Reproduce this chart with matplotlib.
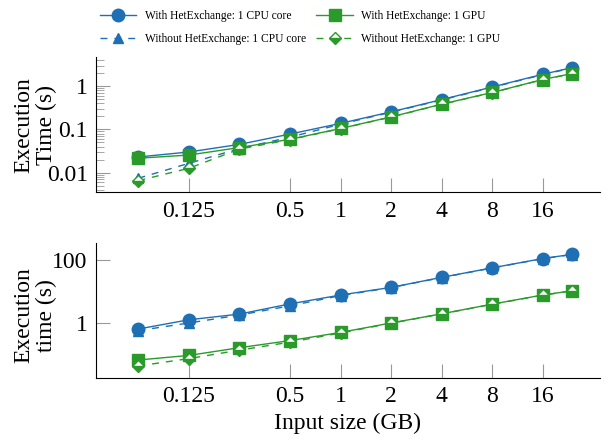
import numpy as np
import matplotlib.pyplot as plt
from matplotlib.ticker import FixedLocator, FixedFormatter, LogLocator, NullLocator, NullFormatter

plt.rcParams['font.family'] = ['Liberation Serif', 'DejaVu Serif']

# Input sizes (GB)
sizes = [0.0625, 0.125, 0.25, 0.5, 1, 2, 4, 8, 16, 24]
xtick_vals = [0.125, 0.5, 1, 2, 4, 8, 16]
xtick_labels = ['0.125', '0.5', '1', '2', '4', '8', '16']

# Top panel: execution time (s)
top_with_cpu = [0.023, 0.030, 0.045, 0.078, 0.138, 0.255, 0.49, 0.96, 1.89, 2.7]
top_with_gpu = [0.0215, 0.0255, 0.038, 0.059, 0.105, 0.195, 0.384, 0.716, 1.43, 1.97]
top_without_cpu = [0.0074, 0.0164, 0.036, 0.066, 0.132, 0.25, 0.48, 0.94, 1.85, 2.65]
top_without_gpu = [0.0065, 0.0126, 0.035, 0.058, 0.104, 0.193, 0.38, 0.71, 1.42, 1.95]

# Bottom panel: execution time (s)
bot_with_cpu = [0.63, 1.24, 1.88, 3.97, 7.6, 13.3, 27.7, 55.7, 110, 150]
bot_with_gpu = [0.065, 0.091, 0.16, 0.27, 0.49, 0.98, 1.92, 3.9, 7.6, 10.4]
bot_without_cpu = [0.56, 0.98, 1.75, 3.44, 7.3, 13.1, 27.3, 55.0, 109, 148]
bot_without_gpu = [0.042, 0.072, 0.134, 0.24, 0.47, 0.96, 1.9, 3.85, 7.5, 10.3]

blue = '#1f6fb4'
green = '#2a9a2a'

fig = plt.figure(figsize=(6.12, 4.40), dpi=100)
ax1 = fig.add_axes([0.157, 0.563, 0.823, 0.307])
ax2 = fig.add_axes([0.157, 0.142, 0.823, 0.306])


def draw(ax, wc, wg, oc, og):
    ax.plot(sizes, wc, '-', color=blue, lw=1, marker='o', ms=9,
            label='With HetExchange: 1 CPU core')
    ax.plot(sizes, oc, '--', color=blue, lw=1, marker='^', ms=7, dashes=(5, 5),
            label='Without HetExchange: 1 CPU core')
    ax.plot(sizes, wg, '-', color=green, lw=1, marker='s', ms=8,
            label='With HetExchange: 1 GPU')
    ax.plot(sizes, og, '--', color=green, lw=1, marker='D', ms=6, dashes=(5, 5),
            fillstyle='bottom', markerfacecoloralt='white', markeredgewidth=1,
            label='Without HetExchange: 1 GPU')
    ax.set_xscale('log')
    ax.set_yscale('log')
    ax.set_xlim(0.035, 35)
    ax.xaxis.set_major_locator(FixedLocator(xtick_vals))
    ax.xaxis.set_major_formatter(FixedFormatter(xtick_labels))
    ax.xaxis.set_minor_locator(NullLocator())
    for s in ['top', 'right']:
        ax.spines[s].set_visible(False)
    ax.tick_params(which='both', direction='in', color='#999999', labelsize=17)
    ax.tick_params(which='major', length=10)
    ax.tick_params(which='minor', length=6)
    ax.tick_params(axis='x', pad=6)
    ax.tick_params(axis='y', pad=6)


draw(ax1, top_with_cpu, top_with_gpu, top_without_cpu, top_without_gpu)
ax1.set_ylim(0.0035, 4.7)
ax1.yaxis.set_major_locator(FixedLocator([0.01, 0.1, 1]))
ax1.yaxis.set_major_formatter(FixedFormatter(['0.01', '0.1', '1']))
ax1.yaxis.set_minor_locator(LogLocator(base=10, subs=np.arange(2, 10), numticks=20))
ax1.yaxis.set_minor_formatter(NullFormatter())
ax1.set_ylabel('Execution\nTime (s)', fontsize=17, linespacing=1.05)
ax1.yaxis.set_label_coords(-0.078, 0.5)

draw(ax2, bot_with_cpu, bot_with_gpu, bot_without_cpu, bot_without_gpu)
ax2.set_ylim(0.018, 347)
ax2.yaxis.set_major_locator(FixedLocator([1, 100]))
ax2.yaxis.set_major_formatter(FixedFormatter(['1', '100']))
ax2.yaxis.set_minor_locator(NullLocator())
ax2.set_ylabel('Execution\ntime (s)', fontsize=17, linespacing=1.05)
ax2.yaxis.set_label_coords(-0.078, 0.46)
ax2.set_xlabel('Input size (GB)', fontsize=17, labelpad=4)

handles, labels = ax1.get_legend_handles_labels()
fig.legend(handles, labels,
           loc='upper center', bbox_to_anchor=(0.49, 1.0), ncol=2, frameon=False,
           fontsize=8.3, handlelength=3.2, handletextpad=0.7, columnspacing=0.9,
           labelspacing=0.95)

fig.savefig('out.png', dpi=100)
